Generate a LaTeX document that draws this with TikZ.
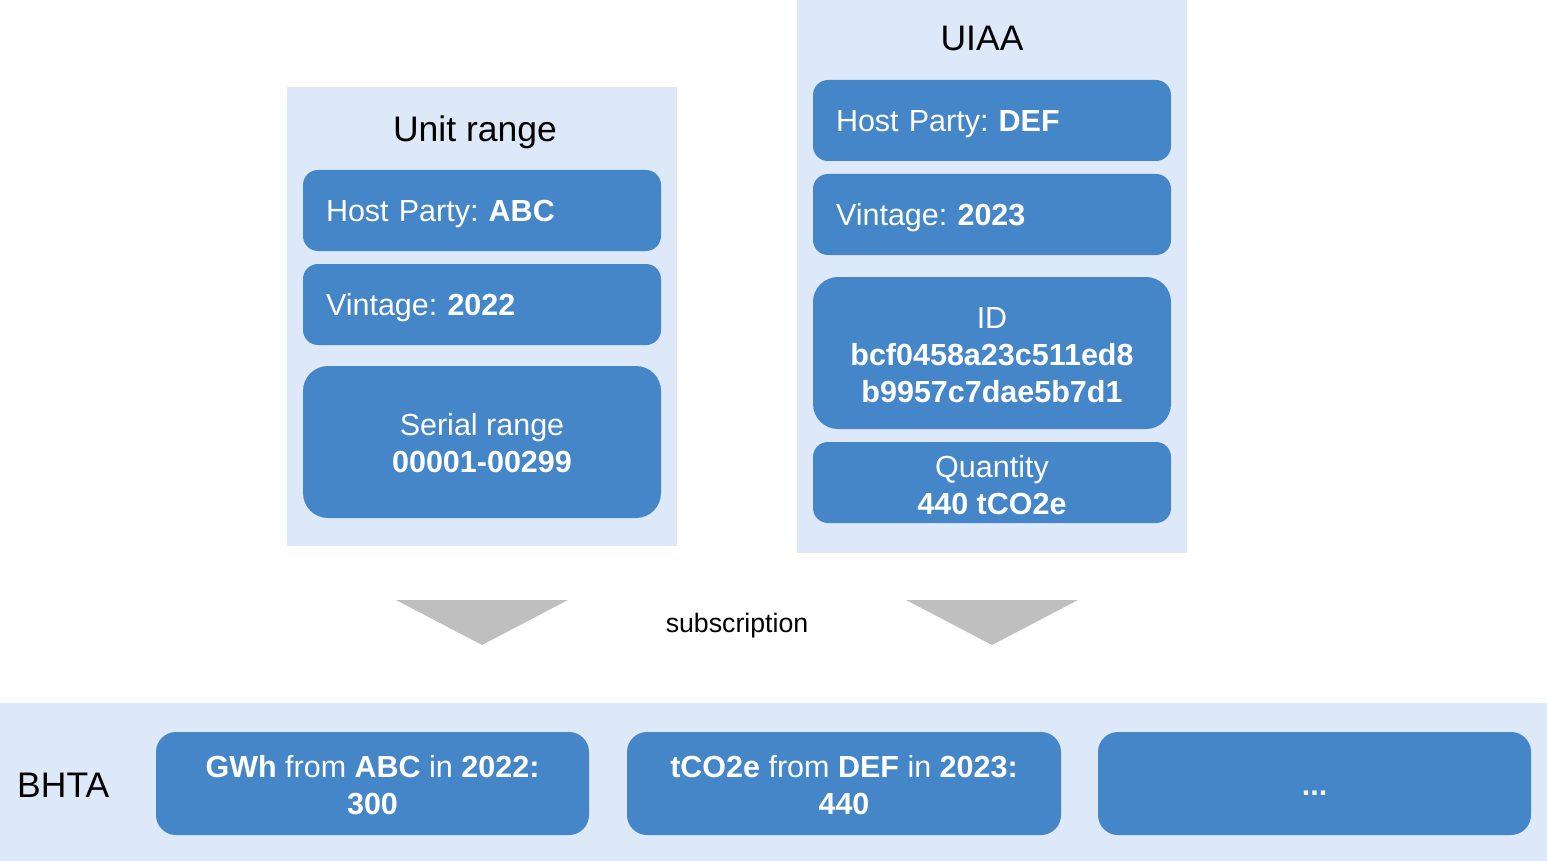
\documentclass[tikz,border=0pt]{standalone}
\usepackage{fontspec}
\setmainfont{Liberation Sans}
\definecolor{panelc}{RGB}{221,233,248}
\definecolor{boxc}{RGB}{69,134,200}
\definecolor{arrowc}{RGB}{191,191,191}
\begin{document}
\frenchspacing
\begin{tikzpicture}[x=1pt,y=-1pt,
  panel/.style={fill=panelc, draw=none, inner sep=0pt, anchor=north west},
  box/.style={fill=boxc, draw=none, rounded corners=15pt, text=white, inner sep=0pt,
    font=\fontsize{30.5}{37}\selectfont, align=center},
  boxtext/.style={text=white, inner sep=0pt, font=\fontsize{30.5}{37}\selectfont, align=center},
  lbox/.style={box, text width=312pt, align=left, minimum width=358pt, minimum height=81pt,
    text height=22pt, text depth=0pt},
  title/.style={font=\fontsize{35.5}{42}\selectfont, inner sep=0pt},
  tri/.style={fill=arrowc, draw=none}
]
\useasboundingbox (0,0) rectangle (1547,861);
% panels
\node[panel, minimum width=390pt, minimum height=459pt] (unitpanel) at (287,87) {};
\node[panel, minimum width=390pt, minimum height=553pt] (uiaapanel) at (797,0) {};
\node[panel, minimum width=1547pt, minimum height=158pt] (bhtapanel) at (0,703) {};
% titles
\node[title] (unittitle) at (475,132) {Unit range};
\node[title] (uiaatitle) at (982,38) {UIAA};
\node[title, anchor=west] (bhtatitle) at (17,785) {BHTA};
% unit range boxes
\node[lbox] (hp1) at (482,210.5) {Host Party: \textbf{ABC}};
\node[lbox] (vin1) at (482,304.5) {Vintage: \textbf{2022}};
\node[box, rounded corners=25pt, minimum width=358pt, minimum height=152pt] (ser1) at (482,442) {};
\node[boxtext] (ser1t) at (482,443.5) {Serial range\\\textbf{00001-00299}};
% UIAA boxes
\node[lbox] (hp2) at (992,120.5) {Host Party: \textbf{DEF}};
\node[lbox] (vin2) at (992,214.5) {Vintage: \textbf{2023}};
\node[box, rounded corners=25pt, minimum width=358pt, minimum height=152pt] (id2) at (992,353) {};
\node[boxtext] (id2t) at (992,355) {ID\\\textbf{bcf0458a23c511ed8}\\\textbf{b9957c7dae5b7d1}};
\node[box, minimum width=358pt, minimum height=81pt] (qty2) at (992,482.5) {};
\node[boxtext] (qty2t) at (992,485) {Quantity\\\textbf{440 tCO2e}};
% arrows
\fill[tri] (396,600) -- (568,600) -- (482,645) -- cycle;
\fill[tri] (906,600) -- (1078,600) -- (992,645) -- cycle;
\node[font=\fontsize{26.7}{32}\selectfont, inner sep=0pt] (subs) at (737,626) {subscription};
% BHTA boxes
\node[box, rounded corners=20pt, minimum width=433pt, minimum height=103pt] (b1) at (372.5,783.5) {};
\node[boxtext] (b1t) at (372.5,785.5) {\textbf{GWh} from \textbf{ABC} in \textbf{2022:}\\\textbf{300}};
\node[box, rounded corners=20pt, minimum width=434pt, minimum height=103pt] (b2) at (844,783.5) {};
\node[boxtext] (b2t) at (844,785.5) {\textbf{tCO2e} from \textbf{DEF} in \textbf{2023:}\\\textbf{440}};
\node[box, rounded corners=20pt, minimum width=433pt, minimum height=103pt] (b3) at (1314.5,783.5) {};
\node[boxtext] (b3t) at (1314.5,785.5) {\vphantom{A}\textbf{...}};
\end{tikzpicture}
\end{document}
